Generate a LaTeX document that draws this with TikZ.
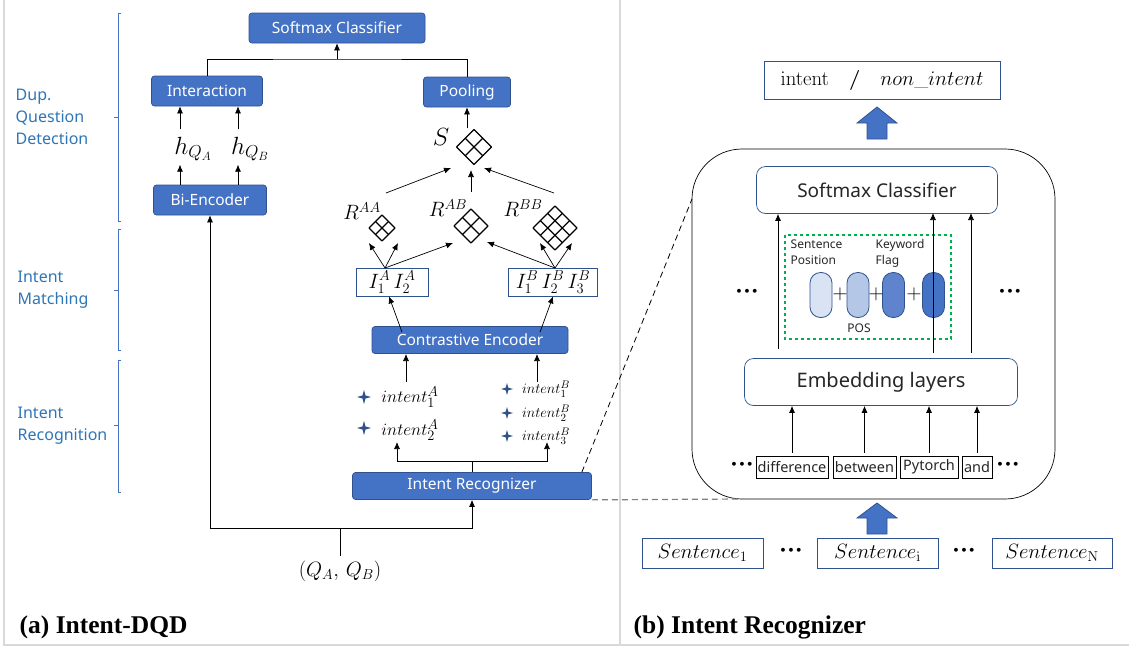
\documentclass[tikz,border=0pt]{standalone}
\usepackage[no-math]{fontspec}
\setsansfont{Noto Sans}
\newfontfamily\capfont{Liberation Serif}
\usetikzlibrary{arrows.meta}
\definecolor{boxblue}{RGB}{68,114,196}
\definecolor{edgeblue}{RGB}{47,82,143}
\definecolor{lblblue}{RGB}{46,117,182}
\definecolor{framegray}{RGB}{217,217,217}
\definecolor{capA}{RGB}{218,227,243}
\definecolor{capB}{RGB}{180,199,231}
\definecolor{capC}{RGB}{95,132,205}
\definecolor{dashgreen}{RGB}{0,176,80}
\definecolor{txtgray}{RGB}{38,38,38}
\tikzset{
  bluebox/.style={draw=edgeblue, fill=boxblue, rounded corners=3pt, text=white,
    font=\sffamily\fontsize{15.5}{18}\selectfont, inner sep=0pt, minimum height=30},
  wbox/.style={draw=edgeblue, fill=white, rounded corners=9pt, text=txtgray,
    font=\sffamily\fontsize{19}{22}\selectfont, inner sep=0pt, minimum height=47},
  ibox/.style={draw=edgeblue, thick, fill=white, inner sep=0pt, minimum height=28,
    font=\fontsize{20}{22}\selectfont},
  sbox/.style={draw=edgeblue, thick, fill=white, inner sep=0pt, minimum height=30,
    font=\fontsize{20}{22}\selectfont},
  wordbox/.style={draw=black, thick, inner sep=0pt, minimum height=22, text=txtgray,
    font=\sffamily\fontsize{14.5}{16}\selectfont},
  capsule/.style={draw=edgeblue, thick, rounded corners=10.5pt, minimum width=22,
    minimum height=45, inner sep=0pt},
  sidelbl/.style={anchor=west, text=lblblue, align=left,
    font=\sffamily\fontsize{16}{22}\selectfont},
  brace/.style={draw=boxblue, line width=0.9pt},
  smalllbl/.style={anchor=north west, text=txtgray, align=left,
    font=\sffamily\fontsize{12}{16}\selectfont},
  mathlbl/.style={inner sep=0.5pt},
  fatarrow/.style={fill=boxblue, draw=edgeblue, thick},
  dots/.style={font=\fontsize{24}{24}\selectfont\boldmath, inner sep=0pt},
  longdash/.style={dash pattern=on 6pt off 4pt},
  caption/.style={anchor=west, font=\capfont\bfseries\fontsize{25.5}{28}\selectfont}
}
\newcommand{\diagrid}[4]{%
  \begin{scope}[shift={(#1,#2)}, rotate=45]
    \pgfmathsetmacro{\ga}{#3/sqrt(2)}
    \pgfmathsetmacro{\gs}{2*\ga/#4}
    \begin{scope}[shift={(-\ga,-\ga)}]
      \foreach \k in {0,...,#4} {
        \draw[line width=1.2pt] (\k*\gs,0) -- (\k*\gs,2*\ga);
        \draw[line width=1.2pt] (0,\k*\gs) -- (2*\ga,\k*\gs);
      }
    \end{scope}
  \end{scope}}
\newcommand{\sparkle}[3]{%
  \fill[edgeblue, shift={(#1,#2)}] (0,-#3) -- (0.22*#3,-0.22*#3) -- (#3,0) -- (0.22*#3,0.22*#3)
    -- (0,#3) -- (-0.22*#3,0.22*#3) -- (-#3,0) -- (-0.22*#3,-0.22*#3) -- cycle;}
\begin{document}
\begin{tikzpicture}[x=1pt, y=-1pt, >={Latex[length=7pt,width=6pt]}, line width=0.7pt]
\useasboundingbox (0,0) rectangle (1129,648);
% frame
\draw[framegray, line width=2pt] (4,0) -- (4,645) -- (1129,645);
\draw[framegray, line width=2pt] (620,0) -- (620,645);

% (a) left side labels
\draw[brace] (121,13) -- (118,13) -- (118,221) -- (121,221) (118,117) -- (114,117);
\draw[brace] (121,229) -- (118,229) -- (118,350) -- (121,350) (118,290) -- (114,290);
\draw[brace] (121,360) -- (118,360) -- (118,492) -- (121,492) (118,425) -- (114,425);
\node[sidelbl] (ldup) at (12,117) {Dup.\\Question\\Detection};
\node[sidelbl] (lmat) at (14,290) {Intent\\Matching};
\node[sidelbl] (lrec) at (14,426) {Intent\\Recognition};

% (a) blocks
\node[bluebox, minimum width=176] (smx) at (337,28) {Softmax Classifier};
\node[bluebox, minimum width=111] (inter) at (207,91) {Interaction};
\node[bluebox, minimum width=87] (pool) at (467,92) {Pooling};
\node[bluebox, minimum width=113] (bienc) at (210,200) {Bi-Encoder};
\node[bluebox, minimum width=196, minimum height=27] (cenc) at (470,340) {Contrastive Encoder};
\node[bluebox, minimum width=239, minimum height=27] (irec) at (472,486) {Intent Recognizer};
\coordinate (jn) at (337,59);
\draw (inter.north) |- (jn) -| (pool.north);
\draw[->] (jn) -- (smx.south);

% h_Q
\node[mathlbl, font=\fontsize{25}{27}\selectfont] (hqa) at (193,149) {$h_{Q_A}$};
\node[mathlbl, font=\fontsize{25}{27}\selectfont] (hqb) at (250,149) {$h_{Q_B}$};
\draw[->] ([xshift=-30]bienc.north) -- ++(0,-20);
\draw[->] ([xshift=28]bienc.north) -- ++(0,-20);
\draw[->] ([xshift=-27,yshift=-23]inter.south) -- ([xshift=-27]inter.south);
\draw[->] ([xshift=31,yshift=-23]inter.south) -- ([xshift=31]inter.south);

% similarity grids
\diagrid{474}{147}{17.5}{2}
\diagrid{382}{228}{13}{2}
\diagrid{471}{226}{17}{2}
\diagrid{555}{228}{22}{3}
\node[mathlbl, font=\fontsize{24}{26}\selectfont] (ls) at (441,137) {$S$};
\node[mathlbl, font=\fontsize{21}{23}\selectfont] (laa) at (362,211) {$R^{AA}$};
\node[mathlbl, font=\fontsize{21}{23}\selectfont] (lab) at (448,208) {$R^{AB}$};
\node[mathlbl, font=\fontsize{21}{23}\selectfont] (lbb) at (523,208) {$R^{BB}$};
\draw[->] ([yshift=-21]pool.south) -- (pool.south);
\coordinate (sAA) at (386,193);
\coordinate (sAB) at (471,192);
\coordinate (sBB) at (554,193);
\draw[->] (sAA) -- (451,168);
\draw[->] (sAB) -- (471,170);
\draw[->] (sBB) -- (484,168);

% intent matching
\node[ibox, minimum width=72] (ia) at (392,282) {$I_1^A\,I_2^A$};
\node[ibox, minimum width=89] (ib) at (553,282) {$I_1^B\,I_2^B\,I_3^B$};
\coordinate (ta) at (385,268);
\coordinate (tb) at (555,268);
\draw[->] (ta) -- (369,243);
\draw[->] (ta) -- (398,243);
\draw[->] (ta) -- (453,243);
\draw[->] (tb) -- (487,242);
\draw[->] (tb) -- (540,243);
\draw[->] (tb) -- (572,243);
\draw[->] ([xshift=-68,yshift=-6]cenc.north) -- ([xshift=-3]ia.south);
\draw[->] ([xshift=70,yshift=-6]cenc.north) -- (ib.south);

% intents
\sparkle{364}{397}{7}
\sparkle{364}{428}{7}
\sparkle{507}{389}{6}
\sparkle{507}{413}{6}
\sparkle{507}{436}{6}
\node[mathlbl, font=\fontsize{19}{21}\selectfont] (ta1) at (410,397) {$intent_1^A$};
\node[mathlbl, font=\fontsize{19}{21}\selectfont] (ta2) at (410,430) {$intent_2^A$};
\node[inner sep=0pt, font=\fontsize{15.5}{16}\selectfont] (tb1) at (546,389) {$intent_1^B$};
\node[inner sep=0pt, font=\fontsize{15.5}{16}\selectfont] (tb2) at (546,413) {$intent_2^B$};
\node[inner sep=0pt, font=\fontsize{15.5}{16}\selectfont] (tb3) at (546,436) {$intent_3^B$};
\draw[->] (406,382) -- (406,354);
\draw[->] (537,382) -- (537,354);
\coordinate (ir1) at (472,461);
\draw (irec.north) -- (ir1);
\draw[->] (ir1) -| (397,442);
\draw[->] (ir1) -| (547,442);

% input
\node[mathlbl, font=\fontsize{21}{23}\selectfont] (qq) at (340,571) {$(Q_A,\,Q_B)$};
\coordinate (qj) at (340,528);
\draw (qq.north) ++(0,-4) -- (qj);
\draw[->] (qj) -| (bienc.south);
\draw[->] (qj) -| (irec.south);

% (b) intent recognizer
\node[draw=edgeblue, thick, minimum width=236, minimum height=38, inner sep=0pt,
  font=\fontsize{20}{22}\selectfont] (outc) at (882,80)
  {$\mathrm{intent}$\quad\textbf{/}\quad$non\_intent$};
\draw[fatarrow] (867,139) -- (867,123) -- (857,123) -- (877,107) -- (897,123) -- (887,123) -- (887,139) -- cycle;
\node[draw, minimum width=363, minimum height=350, rounded corners=50pt] (recbox) at (873.5,324) {};
\draw[longdash, line width=0.8pt] ([xshift=-10]irec.north east) -- (692,199);
\draw[longdash, gray, line width=1.2pt] (irec.south east) -- (742,499);

\node[wbox, minimum width=241] (rsmx) at (877,190) {Softmax Classifier};
\node[wbox, minimum width=273, font=\sffamily\fontsize{20}{22}\selectfont] (emb) at (881,382) {Embedding layers};

% feature sum
\draw[dashgreen, dashed, line width=1.6pt] (785,235) rectangle (951,339);
\node[smalllbl] (lpos) at (787,236) {Sentence\\Position};
\node[smalllbl] (lkw) at (872,236) {Keyword\\Flag};
\node[capsule, fill=capA] (c1) at (821,295) {};
\node[capsule, fill=capB] (c2) at (858,295) {};
\node[capsule, fill=capC] (c3) at (893.5,295) {};
\node[capsule, fill=boxblue] (c4) at (933.5,295) {};
\node[inner sep=0pt, font=\fontsize{20}{20}\selectfont] (p1) at (840,294) {$+$};
\node[inner sep=0pt, font=\fontsize{20}{20}\selectfont] (p2) at (876,294) {$+$};
\node[inner sep=0pt, font=\fontsize{20}{20}\selectfont] (p3) at (914,294) {$+$};
\node[inner sep=0pt, text=txtgray, font=\sffamily\fontsize{12}{14}\selectfont] (lpos2) at (859,328) {POS};
\draw[->] ([xshift=-103]emb.north) ++(0,-9) -- ([xshift=-99]rsmx.south);
\draw[->] (933,353) -- (933,213);
\draw[->] (971,353) -- (971,213);
\node[dots] (d1) at (747,292) {${\cdot}{\cdot}{\cdot}$};
\node[dots] (d2) at (1010,292) {${\cdot}{\cdot}{\cdot}$};

% words
\node[wordbox, minimum width=72] (w1) at (792,467) {difference};
\node[wordbox, minimum width=63] (w2) at (864.5,467) {between};
\node[wordbox, minimum width=58] (w3) at (929,467) {Pytorch};
\node[wordbox, minimum width=30] (w4) at (977,467) {and};
\node[dots] (d3) at (742,465) {${\cdot}{\cdot}{\cdot}$};
\node[dots] (d4) at (1008,465) {${\cdot}{\cdot}{\cdot}$};
\foreach \w in {w1,w2,w3,w4} \draw[->] ([yshift=3]\w.north) -- (\w.north |- emb.south);

% sentences
\draw[fatarrow] (867,534) -- (867,518) -- (857,518) -- (877,503) -- (897,518) -- (887,518) -- (887,534) -- cycle;
\node[sbox, minimum width=121] (s1) at (702.5,553) {$Sentence_1$};
\node[sbox, minimum width=121] (si) at (877.5,553) {$Sentence_{\mathrm{i}}$};
\node[sbox, minimum width=120] (sn) at (1052,553) {$Sentence_{\mathrm{N}}$};
\node[dots] (d5) at (791,551) {${\cdot}{\cdot}{\cdot}$};
\node[dots] (d6) at (964,551) {${\cdot}{\cdot}{\cdot}$};

% captions
\node[caption] (capa) at (16,627) {(a) Intent-DQD};
\node[caption] (capb) at (630,627) {(b) Intent Recognizer};
\end{tikzpicture}
\end{document}
